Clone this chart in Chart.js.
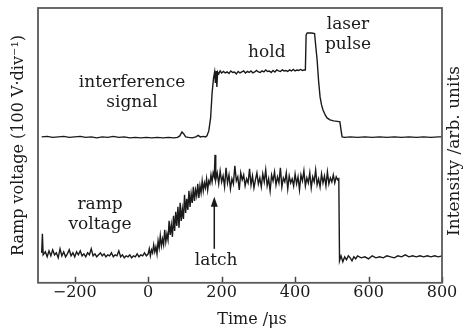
<!DOCTYPE html>
<html>
<head>
<meta charset="utf-8">
<script src="https://cdn.jsdelivr.net/npm/chart.js@4"></script>
<style>
  html, body { margin: 0; padding: 0; background: #fff; }
  #wrap { width: 464px; height: 330px; }
</style>
</head>
<body>
<div id="wrap"><canvas id="scope"></canvas></div>
<script>
// Time axis ticks (us)
const timeTicks = [-200, 0, 200, 400, 600, 800];

// Upper trace: interference signal / intensity, [time us, level]
const interferenceTrace = [
    [-290,146],[-275,146.5],[-260,145.5],[-245,146],[-230,146.5],[-215,145.5],[-200,146],[-185,146.5],
    [-170,145.5],[-155,146],[-140,145],[-125,146],[-110,145.5],[-95,146.5],[-80,145.5],[-65,146],
    [-50,145],[-35,145.5],[-20,145],[-5,145.5],[10,145],[25,145.5],[40,145],[55,145.5],[70,145],
    [80,145.5],[86,147],[92,151],[97,149],[102,146],[110,145.5],[120,145],[130,146],[136,147.5],
    [142,146],[150,146.5],[156,146],[160,147],[165,152],[170,165],[174,190],[178,205],[181,211],
    [183,200],[185,212],[187,196],[189,211],[192,209],[196,212],[200,210],[205,211.5],[210,210],
    [215,211],[220,209.5],[225,212],[230,210.5],[235,211],[240,209],[245,211.5],[250,210],[255,211],
    [260,212],[265,210],[270,211.5],[275,210.5],[280,212],[285,210],[290,211],[295,212.5],[300,211],
    [305,210.5],[310,212],[315,211],[320,213],[325,211.5],[330,212],[335,210.5],[340,212.5],[345,211],
    [350,213],[355,212],[360,211.5],[365,213],[370,212],[375,212.5],[380,211.5],[385,213],[390,212],
    [395,213.5],[400,212],[405,213],[410,212.5],[415,213.5],[420,212.5],[425,213],[428,213],
    [430,248],[433,250],[445,250],[453,249.5],[456,238],[460,223],[464,202],[468,186],[472,178],
    [476,173],[482,168],[487,165],[495,163],[505,162],[515,161.5],[522,161],[525,153],[528,146],
    [535,145.5],[550,146],[570,145.5],[590,146],[610,145.5],[630,146],[650,145.5],[670,146],
    [690,145.5],[710,146],[730,145.5],[750,146],[770,145.5],[790,146],[800,146]
];

// Lower trace: ramp voltage, [time us, level]
const rampTrace = [
    [-290,30],[-288,49],[-286,28],[-280,31],[-275,26],[-270,32],[-265,27],[-260,33],[-255,28],
    [-250,30],[-245,25],[-240,34],[-235,27],[-230,31],[-225,26],[-220,29],[-215,33],[-210,27],
    [-205,30],[-200,26],[-195,31],[-190,28],[-185,32],[-180,27],[-175,29],[-170,26],[-165,30],
    [-160,28],[-155,34],[-150,27],[-145,29],[-140,26],[-135,28],[-130,30],[-125,27],[-120,29],
    [-115,26],[-110,28],[-105,27],[-100,30],[-95,26],[-90,28],[-85,27],[-80,32],[-75,26],[-70,28],
    [-65,25],[-60,27],[-55,26],[-50,28],[-45,25],[-40,27],[-35,26],[-30,29],[-25,26],[-20,28],
    [-15,27],[-10,30],[-5,27],[0,29],[3,34],[6,27],[9,33],[12,30],[15,38],[18,31],[21,36],[24,29],
    [27,42],[30,35],[33,47],[36,37],[39,44],[42,38],[45,53],[48,41],[51,49],[54,43],[57,62],[60,48],
    [63,58],[66,46],[69,67],[72,52],[75,71],[78,57],[81,76],[84,55],[87,80],[90,62],[93,74],[96,64],
    [99,88],[102,70],[105,84],[108,73],[111,92],[114,76],[117,89],[120,80],[123,96],[126,82],[129,93],
    [132,87],[135,99],[138,85],[141,97],[144,90],[147,102],[150,92],[153,100],[156,95],[159,104],
    [162,93],[165,102],[168,99],[171,108],[174,101],[177,110],[180,106],[182,128],[184,103],
    [188,110],[192,99],[196,112],[200,101],[204,107],[208,96],[212,115],[216,100],[220,108],[224,94],
    [228,104],[232,99],[236,117],[240,102],[244,106],[248,93],[252,110],[256,103],[260,108],[264,97],
    [268,104],[272,100],[276,114],[280,98],[284,107],[288,95],[292,103],[296,110],[300,99],[304,105],
    [308,96],[312,109],[316,101],[320,113],[324,97],[328,104],[332,92],[336,108],[340,102],[344,111],
    [348,98],[352,106],[356,100],[360,115],[364,96],[368,105],[372,101],[376,110],[380,94],[384,107],
    [388,100],[392,104],[396,97],[400,109],[404,99],[408,106],[412,93],[416,108],[420,102],[424,112],
    [428,97],[432,105],[436,100],[440,110],[444,95],[448,106],[452,101],[456,113],[460,98],[464,104],
    [468,96],[472,109],[476,100],[480,107],[484,97],[488,111],[492,99],[496,105],[500,101],[504,108],
    [508,100],[512,106],[516,103],[519,104],[521,22],[525,27],[530,21],
    [535,26],[540,23],[545,27],[550,25],[555,22],[560,26],[565,24],[570,27],[580,25],[590,26],
    [600,24],[610,27],[620,25],[630,26],[640,25],[650,27],[660,26],[670,25],[680,27],[690,26],
    [700,28],[710,26],[720,27],[730,26],[740,27],[750,26],[760,27],[770,26],[780,27],[790,26],[800,27]
];

const serif = "'DejaVu Serif', serif";
const ink = '#1a1a1a';

// Text labels placed in data coordinates
const notes = [
    { text: 'interference', t: -44, v: 200 },
    { text: 'signal', t: -44, v: 180 },
    { text: 'hold', t: 323, v: 230 },
    { text: 'laser', t: 544, v: 258 },
    { text: 'pulse', t: 544, v: 238 },
    { text: 'ramp', t: -131, v: 78 },
    { text: 'voltage', t: -131, v: 58 },
    { text: 'latch', t: 185, v: 22 }
];

const toPoints = (rows) => rows.map(r => ({ x: r[0], y: r[1] }));

// Frame, inward ticks, axis titles and annotations
const scopeDecor = {
    id: 'scopeDecor',
    afterDraw(chart) {
        const ctx = chart.ctx;
        const area = chart.chartArea;
        const xs = chart.scales.x;
        const ys = chart.scales.y;
        ctx.save();

        // inward tick marks
        ctx.strokeStyle = '#444';
        ctx.lineWidth = 1.5;
        timeTicks.forEach(v => {
            const px = Math.round(xs.getPixelForValue(v)) + 0.5;
            ctx.beginPath();
            ctx.moveTo(px, area.bottom);
            ctx.lineTo(px, area.bottom - 6);
            ctx.stroke();
        });

        // frame
        ctx.strokeStyle = '#5a5a5a';
        ctx.lineWidth = 1.8;
        ctx.strokeRect(area.left, area.top, area.right - area.left, area.bottom - area.top);

        ctx.fillStyle = ink;
        ctx.textAlign = 'center';
        ctx.textBaseline = 'middle';

        // annotations
        ctx.font = '17px ' + serif;
        notes.forEach(n => {
            ctx.fillText(n.text, xs.getPixelForValue(n.t), ys.getPixelForValue(n.v));
        });

        // latch arrow
        const ax = xs.getPixelForValue(180);
        const ay0 = ys.getPixelForValue(34);
        const ay1 = ys.getPixelForValue(86);
        ctx.strokeStyle = ink;
        ctx.lineWidth = 1.5;
        ctx.beginPath();
        ctx.moveTo(ax, ay0);
        ctx.lineTo(ax, ay1 + 6);
        ctx.stroke();
        ctx.beginPath();
        ctx.moveTo(ax, ay1);
        ctx.lineTo(ax - 3.5, ay1 + 10);
        ctx.lineTo(ax + 3.5, ay1 + 10);
        ctx.closePath();
        ctx.fill();

        // axis titles
        ctx.font = '16px ' + serif;
        ctx.fillText('Time /\u03bcs', 252, 320);

        ctx.save();
        ctx.translate(19, (area.top + area.bottom) / 2);
        ctx.rotate(-Math.PI / 2);
        ctx.fillText('Ramp voltage (100 V\u00b7div\u207b\u00b9)', 0, 0);
        ctx.restore();

        ctx.save();
        ctx.translate(455, 151);
        ctx.rotate(-Math.PI / 2);
        ctx.font = '17px ' + serif;
        ctx.fillText('Intensity /arb. units', 0, 0);
        ctx.restore();

        ctx.restore();
    }
};

const scopeChart = new Chart(document.getElementById('scope'), {
    type: 'line',
    data: {
        datasets: [
            {
                label: 'interference signal',
                data: toPoints(interferenceTrace),
                borderColor: ink,
                borderWidth: 1.4,
                pointRadius: 0,
                tension: 0
            },
            {
                label: 'ramp voltage',
                data: toPoints(rampTrace),
                borderColor: ink,
                borderWidth: 1.4,
                pointRadius: 0,
                tension: 0
            }
        ]
    },
    options: {
        responsive: true,
        maintainAspectRatio: false,
        animation: false,
        devicePixelRatio: 1,
        layout: { padding: { left: 38, right: 22, top: 8, bottom: 28 } },
        plugins: {
            legend: { display: false },
            tooltip: { enabled: false }
        },
        scales: {
            x: {
                type: 'linear',
                min: -300,
                max: 800,
                afterBuildTicks: (scale) => {
                    scale.ticks = timeTicks.map(v => ({ value: v }));
                },
                grid: { display: false, drawTicks: false },
                border: { display: false },
                ticks: {
                    padding: 0,
                    maxRotation: 0,
                    color: ink,
                    font: { family: serif, size: 16 },
                    callback: (v) => v < 0 ? '\u2212' + Math.abs(v) : String(v)
                }
            },
            y: {
                min: 0,
                max: 275,
                display: false
            }
        }
    },
    plugins: [scopeDecor]
});
</script>
</body>
</html>
